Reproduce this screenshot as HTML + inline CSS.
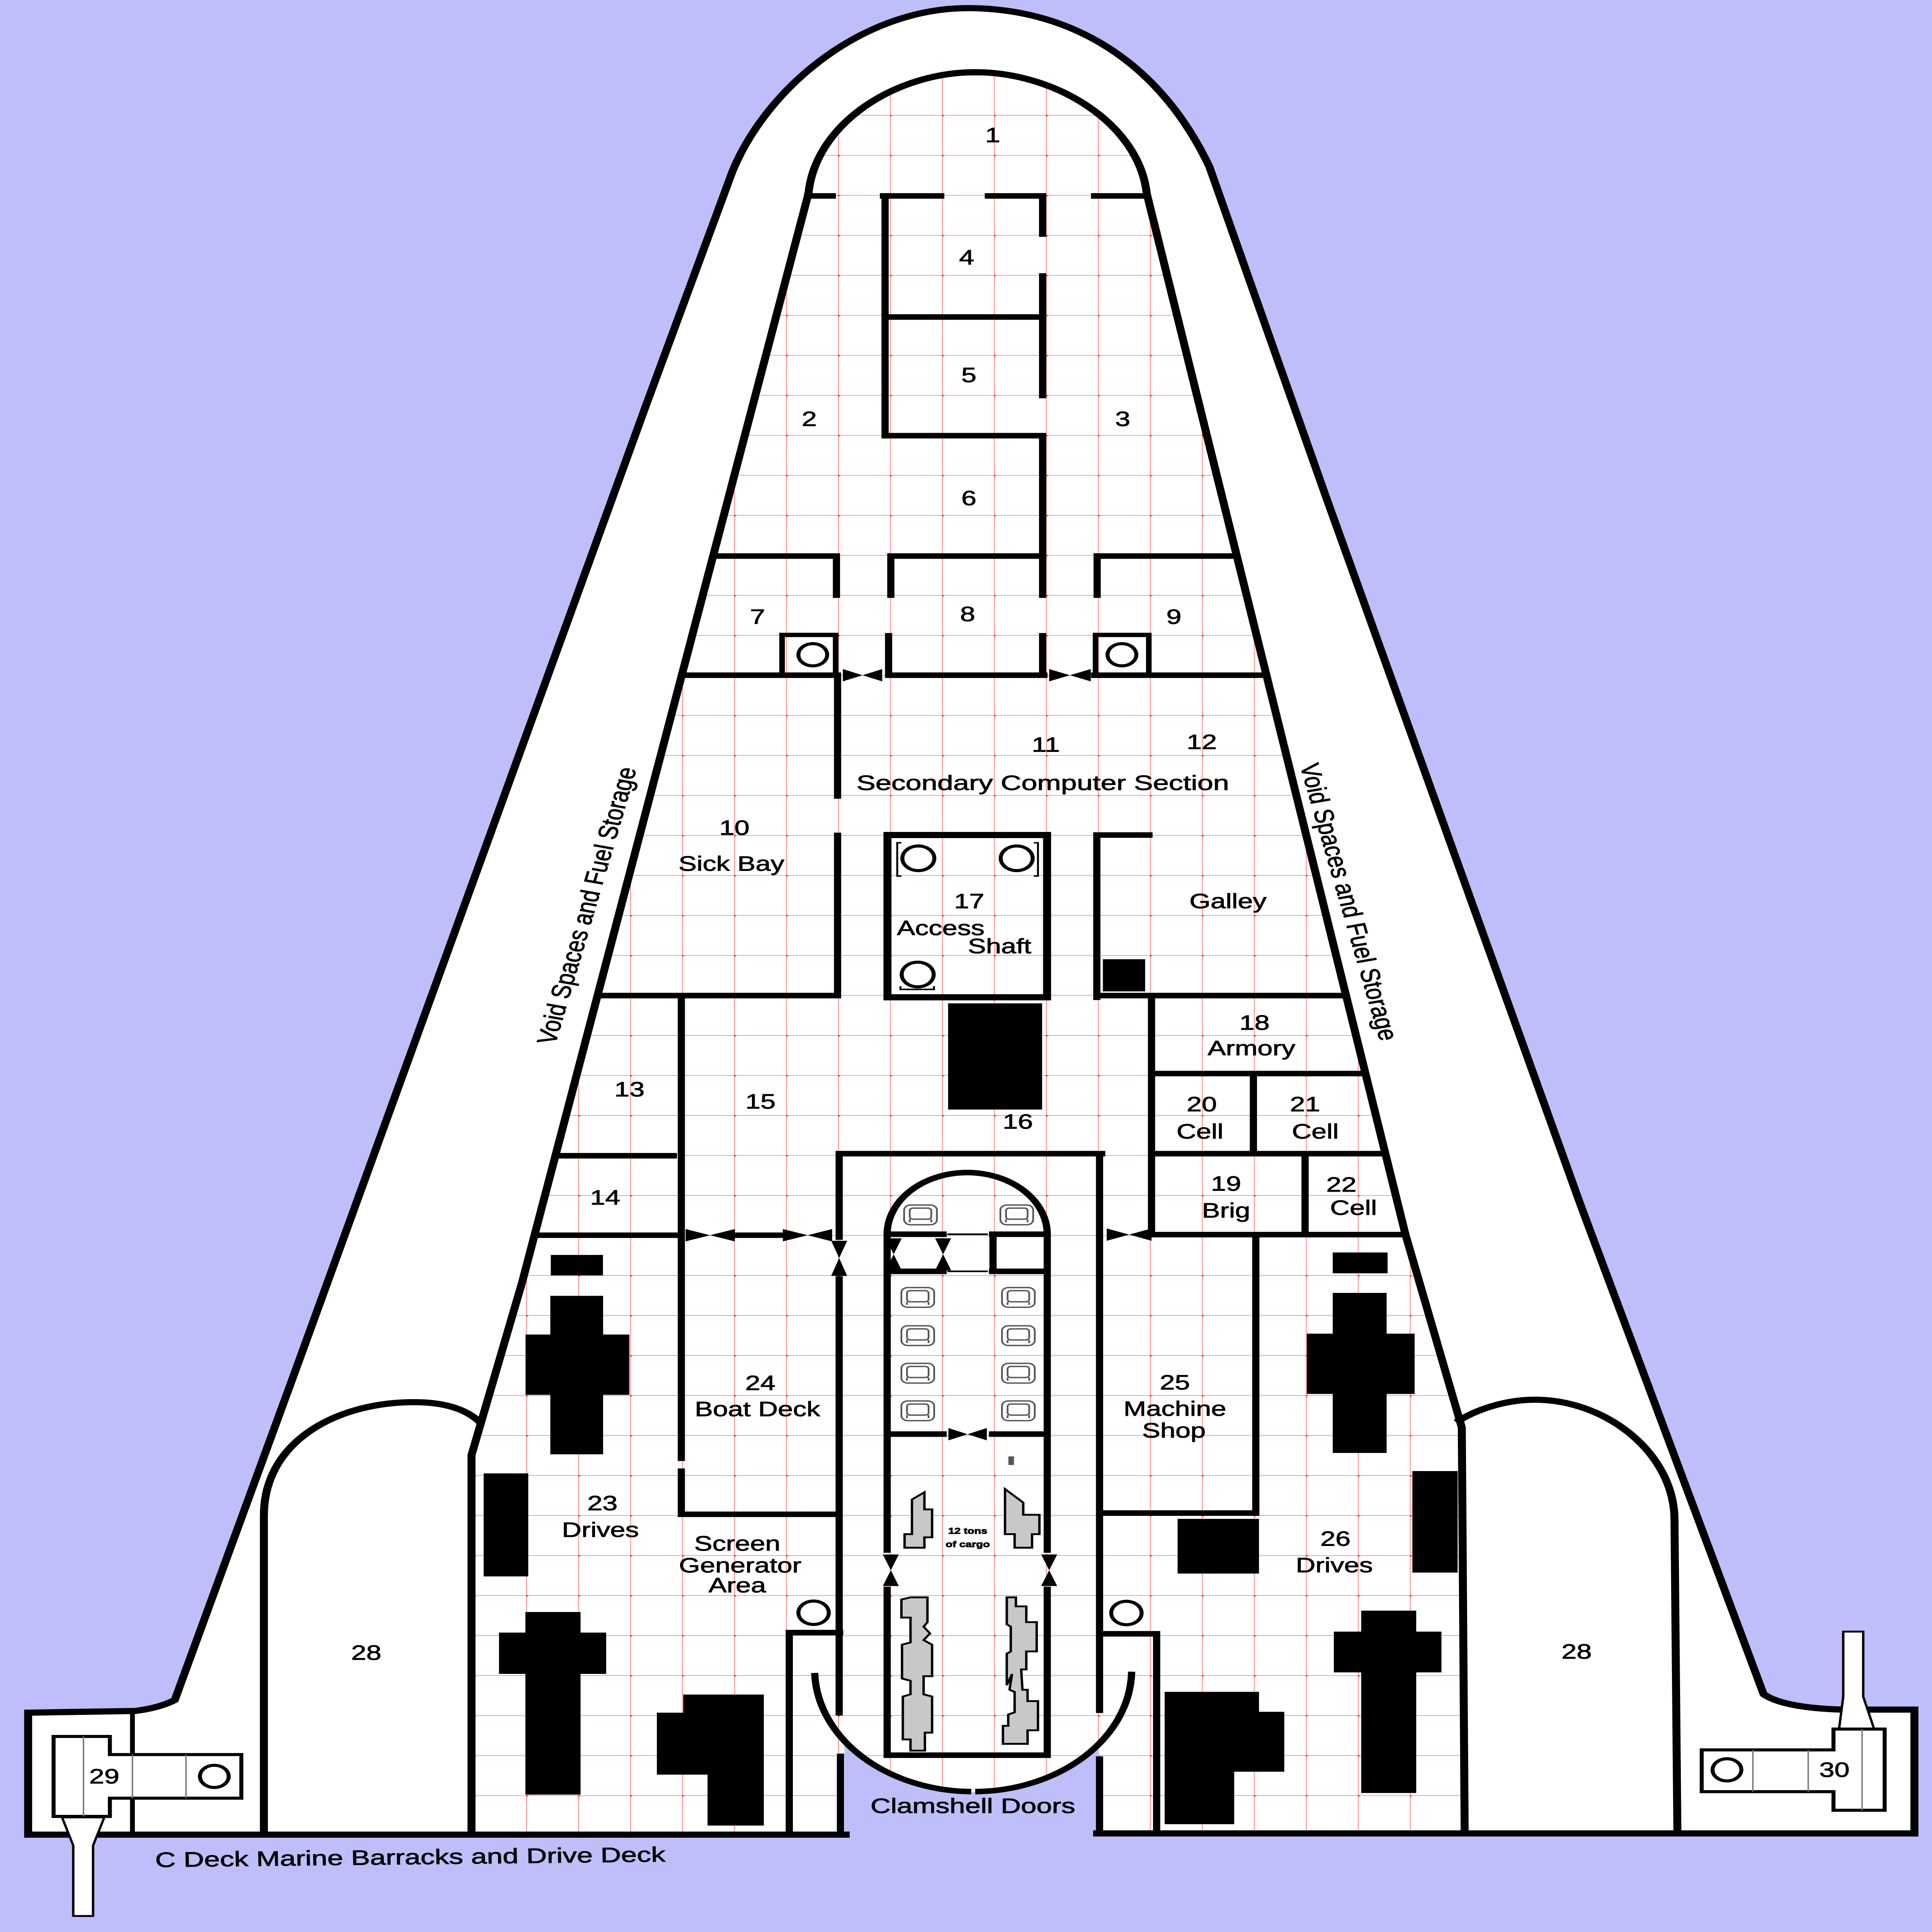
<!DOCTYPE html>
<html><head><meta charset="utf-8"><style>html,body{margin:0;padding:0;background:#bebefa;width:100%;height:100%;overflow:hidden}svg{display:block;position:fixed;left:0;top:0;width:100vw;height:100vh}text{font-family:"Liberation Sans",sans-serif;fill:#000;stroke:#000;stroke-width:0.35}</style></head><body>
<svg xmlns="http://www.w3.org/2000/svg" viewBox="0 0 1208 1568" preserveAspectRatio="none">
<defs>
<pattern id="g" x="491.5" y="93.3" width="32.5" height="32.47" patternUnits="userSpaceOnUse">
<path d="M0,0 L32.5,0 M0,0 L0,32.47" stroke="#ff5a5a" stroke-width="1" opacity="0.75" fill="none"/>
<circle cx="0" cy="0" r="1.3" fill="#ff2020"/>
</pattern>
<clipPath id="deck"><path d="M505.5,157 C510,100 560,58.6 609.8,58.6 C660,58.6 712,100 717,157 L878.8,1002 L914,1158.5 L915.8,1487 L687,1487 L687,1415.8 A99,99 0 0 1 528,1412.6 L528,1487 L294.8,1487 L294.8,1181 L326.4,1041 Z"/></clipPath>
<g id="seat"><rect x="0" y="0" width="20.5" height="16" rx="4"/><rect x="3.5" y="2.5" width="13.5" height="9" rx="2"/><path d="M3.5,11.5 L3.5,14 M17,11.5 L17,14"/></g>
</defs>
<rect width="1208" height="1568" fill="#bebefa"/>
<path d="M17.6,1489 L17.6,1390 L84.6,1388.6 Q100,1386 109.3,1379.7 L186.8,1105 L403.8,329.4 L458,139 C480,70 540,6 606,6.6 C670,7 725,50 756.2,135.4 L828.9,402.6 L988.2,977.7 L1102.7,1375 Q1115,1386 1151.5,1387.5 L1197,1387.5 L1197,1488 L687,1488 L687,1415.8 A99,99 0 0 1 528,1412.6 L528,1489 Z" fill="#fff"/>
<rect x="0" y="0" width="1208" height="1568" fill="url(#g)" clip-path="url(#deck)"/>
<path d="M528,1500 L528,1412.6 A99,99 0 0 0 687,1415.8 L687,1500 Z" fill="#bebefa"/>
<g fill="none" stroke="#000" stroke-linecap="square">
<path stroke-width="5" d="M528.8,1489 L17.6,1489 L17.6,1390 L84.6,1388.6 Q100,1386 109.3,1379.7 L186.8,1105 L403.8,329.4 L458,139 C480,70 540,6 606,6.6 C670,7 725,50 756.2,135.4 L828.9,402.6 L988.2,977.7 L1102.7,1375 Q1115,1386 1151.5,1387.5 L1197,1387.5 L1197,1488 L686,1488"/>
<path stroke-width="5" d="M294.8,1487 L294.8,1181 L326.4,1041 L505.5,157 C510,100 560,58.6 609.8,58.6 C660,58.6 712,100 717,157 L878.8,1002 L914,1158.5 L915.8,1487"/>
<path stroke-width="5" d="M165,1489 L165,1230 C165,1170 210,1138 259,1138 C280,1138 292,1145 299,1153"/>
<path stroke-width="5" d="M1048.8,1487 L1047,1233.8 C1047,1180 1005,1136 959.6,1136 C940,1136 922,1145 912.4,1152.8"/>
<path stroke-width="3" d="M82.8,1392 L82.8,1489"/>
<path stroke-width="4.5" d="
M505,159 L520.4,159 M552.4,159 L588.2,159 M618,159 L651.9,159 M684.4,159 L716,159
M553.4,159 L553.4,353.6 M651.9,159 L651.9,190 M651.9,224 L651.9,321 M651.9,353.6 L651.9,483
M553.4,257.3 L651.9,257.3 M553.4,353.6 L651.9,353.6
M446,451.3 L523,451.3 L523,483 M557,483 L557,451.3 L652,451.3 M686,483 L686,451.3 L773.3,451.3
M426.3,548 L523,548 M555.6,548 L652.7,548 M684.4,548 L791.9,548
M555.6,516 L555.6,548 M651.9,516 L651.9,548
M523.7,548 L523.7,646 M523.7,678 L523.7,808 M374,808 L523.7,808
M685.8,809.4 L685.8,677.7 L718.4,677.7 M685.8,808 L841.7,808
M720,808 L720,1002 M720,871.3 L853.7,871.3 M783.7,871.3 L783.7,936.3 M720,936.3 L866.2,936.3 M816,936.3 L816,1002 M720,1002 L878.8,1002
M426,808 L426,1183.5 M426,1194 L426,1229 L521.7,1229
M347.4,938 L421,938 M334.4,1002.5 L425.5,1002.5 M459.5,1002.5 L489.5,1002.5
M524.7,936.3 L688.8,936.3 M524.7,936.3 L524.7,1004 M524.7,1038 L524.7,1390 M525.5,1425.5 L525.5,1489
M687.5,936.3 L687.5,1388 M687.5,1427.7 L687.5,1488
M785.2,1002 L785.2,1228 L691.9,1228
M525,1325 L493.5,1325 L493.5,1489 M687.5,1326 L723.2,1326 L723.2,1486
"/>
<rect x="489" y="515.3" width="33.5" height="32.7" stroke-width="3.5"/>
<rect x="685" y="515.3" width="33.3" height="32.7" stroke-width="3.5"/>
<circle cx="508.2" cy="531.4" r="9" stroke-width="2.5"/>
<circle cx="701.5" cy="531.4" r="9" stroke-width="2.5"/>
<rect x="554.9" y="677.7" width="99.8" height="131.7" stroke-width="5"/>
<circle cx="574.2" cy="696.6" r="10" stroke-width="2.5"/>
<circle cx="635.7" cy="696.6" r="10" stroke-width="2.5"/>
<circle cx="573.8" cy="790.9" r="10" stroke-width="2.5"/>
<path stroke-width="1.2" d="M563,684 L561,684 L561,711 L563,711 M647,684 L649,684 L649,711 L647,711 M563,801 L563,803 L584,803 L584,801"/>
<circle cx="508.7" cy="1308.9" r="9.5" stroke-width="2.5"/>
<circle cx="704.3" cy="1309.1" r="9.5" stroke-width="2.5"/>
<path stroke-width="4.5" d="M509.5,1360 A99,99 0 0 0 605,1454 M612,1454 A99,99 0 0 0 707.5,1359"/>
<path stroke-width="4.5" d="M554.7,1258 L554.7,1001.7 A50,50 0 0 1 654.8,1001.7 L654.8,1258 M554.7,1290 L554.7,1424.5 L654.8,1424.5 L654.8,1290
M554.7,1001.7 L589.7,1001.7 M620.6,1001.7 L654.8,1001.7 M554.7,1031.8 L589.7,1031.8 M620.6,1031.8 L654.8,1031.8 M620.9,1001.7 L620.9,1031.8
M554.7,1163.9 L589.7,1163.9 M620.6,1163.9 L654.8,1163.9"/>
<path stroke-width="1.3" d="M593,1001.7 L617,1001.7 M593,1031.8 L617,1031.8"/>
</g>
<g fill="#000">
<path d="M527,543 L539.3,548 L527,553 Z M551.6,543 L539.3,548 L551.6,553 Z"/>
<path d="M656,543 L669,548 L656,553 Z M682,543 L669,548 L682,553 Z"/>
<path d="M428.7,997.5 L444,1002.5 L428.7,1007.5 Z M459.5,997.5 L444,1002.5 L459.5,1007.5 Z"/>
<path d="M489.5,997.5 L505,1002.5 L489.5,1007.5 Z M520.3,997.5 L505,1002.5 L520.3,1007.5 Z"/>
<path d="M692,997 L706,1002 L692,1007 Z M720,997 L706,1002 L720,1007 Z"/>
<path d="M593,1159 L605,1164 L593,1169 Z M617,1159 L605,1164 L617,1169 Z"/>
<path d="M519.7,1007 L524.7,1021 L529.7,1007 Z M519.7,1035.5 L524.7,1021 L529.7,1035.5 Z"/>
<path d="M553.8,1005 L558.8,1018 L563.8,1005 Z M553.8,1031 L558.8,1018 L563.8,1031 Z"/>
<path d="M584.7,1005 L589.7,1018 L594.7,1005 Z M584.7,1031 L589.7,1018 L594.7,1031 Z"/>
<path d="M552,1261.6 L557,1274.4 L562,1261.6 Z M552,1287.2 L557,1274.4 L562,1287.2 Z"/>
<path d="M651,1261.6 L656,1274.4 L661,1261.6 Z M651,1287.2 L656,1274.4 L661,1287.2 Z"/>
</g>
<g fill="#000">
<rect x="592.8" y="814.3" width="58.8" height="86.2"/>
<rect x="689.6" y="778.5" width="26.4" height="26.1"/>
<rect x="344.4" y="1018.5" width="32.6" height="16.6"/>
<path d="M344.1,1051.7 L377.1,1051.7 L377.1,1083.1 L393.5,1083.1 L393.5,1132 L377.1,1132 L377.1,1180.3 L344.1,1180.3 L344.1,1132 L328.6,1132 L328.6,1083.1 L344.1,1083.1 Z"/>
<rect x="302.4" y="1195.8" width="27.9" height="83.6"/>
<path d="M328.5,1308.3 L363,1308.3 L363,1325 L379,1325 L379,1358.5 L363,1358.5 L363,1456.5 L328.5,1456.5 L328.5,1358.5 L312,1358.5 L312,1325 L328.5,1325 Z"/>
<path d="M427.2,1375.3 L477.6,1375.3 L477.6,1481.6 L442.4,1481.6 L442.4,1440.3 L410.7,1440.3 L410.7,1390 L427.2,1390 Z"/>
<rect x="833.3" y="1016.5" width="34.3" height="16.9"/>
<path d="M833.3,1049.3 L867,1049.3 L867,1082.4 L884.5,1082.4 L884.5,1131.3 L867,1131.3 L867,1179.2 L833.3,1179.2 L833.3,1131.3 L817.1,1131.3 L817.1,1082.4 L833.3,1082.4 Z"/>
<rect x="883.1" y="1193.9" width="28.3" height="82.4"/>
<rect x="736.3" y="1232.7" width="50.9" height="44.4"/>
<path d="M851.1,1307.2 L885.5,1307.2 L885.5,1324.2 L901.3,1324.2 L901.3,1357.3 L885.5,1357.3 L885.5,1455.2 L851.1,1455.2 L851.1,1357.3 L834,1357.3 L834,1324.2 L851.1,1324.2 Z"/>
<path d="M728.2,1373.1 L787.2,1373.1 L787.2,1389.3 L803,1389.3 L803,1437.9 L771.7,1437.9 L771.7,1480.5 L728.2,1480.5 Z"/>
<rect x="630.5" y="1182" width="3.5" height="7" fill="#555"/>
</g>
<g fill="#c8c8c8" stroke="#000" stroke-width="1.5">
<path d="M570.2,1217 L578,1211.1 L578,1225 L582.8,1225 L582.8,1247.7 L578,1247.7 L578,1256.1 L565.6,1256.1 L565.6,1245.1 L570.2,1245.1 Z"/>
<path d="M628.4,1208.5 L639.8,1219.5 L639.8,1229.4 L649.9,1229.4 L649.9,1245.1 L645.3,1245.1 L645.3,1256.1 L634.4,1256.1 L634.4,1245.1 L628.4,1245.1 Z"/>
<path d="M569.3,1296.4 L579.9,1296.4 L579.9,1316.5 L577.5,1320.2 L581.5,1325.7 L577.5,1331.1 L582.8,1334.8 L582.8,1360.4 L577.5,1360.4 L577.5,1375.1 L582.8,1376.9 L582.8,1406.2 L578.3,1406.2 L578.3,1420.8 L569.3,1420.8 L569.3,1411.7 L564.5,1411.7 L564.5,1376.9 L569.3,1375.1 L569.3,1364.1 L564,1362.3 L564,1334.8 L569.3,1333 L569.3,1312.8 L563.6,1312.8 L563.6,1298.2 Z"/>
<path d="M629.5,1296.4 L635.2,1296.4 L635.2,1303.7 L641.7,1303.7 L641.7,1316.5 L648.2,1316.5 L648.2,1340.3 L641.7,1340.3 L641.7,1354.9 L638.5,1354.9 L639.3,1371.4 L642.5,1371.4 L642.5,1380.6 L649,1380.6 L649,1404.3 L642.5,1404.3 L642.5,1415.3 L627.1,1415.3 L627.1,1400.7 L630.4,1400.7 L630.4,1391.5 L634.4,1389.7 L634.4,1373.2 L631.2,1371.4 L632.8,1358.6 L629.5,1367.7 L629.5,1342.1 L632,1340.3 L632,1320.2 L629.5,1318.3 Z"/>
</g>
<g fill="#fff" stroke="#555" stroke-width="1.1">
<use href="#seat" x="565.3" y="978"/><use href="#seat" x="625.5" y="978"/>
<use href="#seat" x="563.6" y="1045"/><use href="#seat" x="626.5" y="1045"/>
<use href="#seat" x="563.6" y="1076"/><use href="#seat" x="626.5" y="1076"/>
<use href="#seat" x="563.6" y="1106.5"/><use href="#seat" x="626.5" y="1106.5"/>
<use href="#seat" x="563.6" y="1137"/><use href="#seat" x="626.5" y="1137"/>
</g>
<g fill="#fff" stroke="#000" stroke-width="2.5">
<path d="M38.8,1475 L65.2,1475 L58.2,1497.8 L58.2,1555 L45.8,1555 L45.8,1497.8 Z" stroke-width="1.5"/>
<path d="M33.5,1409.3 L68.7,1409.3 L68.7,1424 L150.9,1424 L150.9,1459.4 L68.7,1459.4 L68.7,1474.2 L33.5,1474.2 Z"/>
<path d="M1149.8,1404 L1152.5,1377 L1152.5,1324.2 L1165,1324.2 L1165,1377 L1172,1404 Z" stroke-width="1.5"/>
<path d="M1146.4,1403.3 L1178.4,1403.3 L1178.4,1469.2 L1146.4,1469.2 L1146.4,1454.1 L1064,1454.1 L1064,1420.2 L1146.4,1420.2 Z"/>
<circle cx="134" cy="1441.7" r="9"/>
<circle cx="1079.8" cy="1436.4" r="9"/>
</g>
<path d="M52.2,1409.3 L52.2,1474.2 M82.8,1424 L82.8,1459.4 M116.3,1424 L116.3,1459.4 M1096,1420.2 L1096,1454.1 M1130.6,1420.2 L1130.6,1454.1 M1164.3,1403.3 L1164.3,1469.2" stroke="#777" stroke-width="0.9" fill="none"/>
<g font-size="17" text-anchor="middle" dominant-baseline="central">
<text x="620.7" y="109.8">1</text>
<text x="506" y="340">2</text><text x="702" y="340">3</text>
<text x="604.4" y="209">4</text><text x="605.8" y="304.5">5</text><text x="605.8" y="404.4">6</text>
<text x="473.7" y="500.7">7</text><text x="605" y="498.5">8</text><text x="734" y="500.7">9</text>
<text x="459.2" y="671.8">10</text><text x="457.3" y="701">Sick Bay</text>
<text x="653.9" y="604.5">11</text><text x="751.4" y="602.2">12</text>
<text x="652" y="635.4" textLength="233" lengthAdjust="spacingAndGlyphs">Secondary Computer Section</text>
<text x="606" y="731.4">17</text><text x="588.2" y="753.2">Access</text><text x="625" y="768">Shaft</text>
<text x="767.8" y="731.4">Galley</text>
<text x="784.4" y="830">18</text><text x="782.5" y="850.7">Armory</text>
<text x="751.4" y="896.3">20</text><text x="750.3" y="918.4">Cell</text>
<text x="816" y="896.3">21</text><text x="822.4" y="918.4">Cell</text>
<text x="766.6" y="960.7">19</text><text x="766.6" y="982.5">Brig</text>
<text x="838.7" y="961.4">22</text><text x="846.3" y="980.2">Cell</text>
<text x="393.6" y="884.2">13</text><text x="475.5" y="894">15</text><text x="636.4" y="910.3">16</text><text x="378.4" y="972">14</text>
<text x="475.4" y="1122.5">24</text><text x="473.6" y="1143.7">Boat Deck</text>
<text x="376.7" y="1220">23</text><text x="375.4" y="1241.6">Drives</text>
<text x="461" y="1252.8">Screen</text><text x="462.8" y="1270.5">Generator</text><text x="461" y="1286.7">Area</text>
<text x="734.6" y="1122">25</text><text x="734.6" y="1143.4">Machine</text><text x="734" y="1161">Shop</text>
<text x="835" y="1248.8">26</text><text x="834.3" y="1270.3">Drives</text>
<text x="229" y="1341.4">28</text><text x="985.8" y="1340.4">28</text>
<text x="65.2" y="1441.7">29</text><text x="1147" y="1436.4">30</text>
<text x="608.3" y="1465.8" textLength="128" lengthAdjust="spacingAndGlyphs">Clamshell Doors</text>
<text x="256.5" y="1507.4" textLength="319" lengthAdjust="spacingAndGlyphs" transform="rotate(-0.8 256.5 1507.4)">C Deck Marine Barracks and Drive Deck</text>
<text x="367" y="735" textLength="230" lengthAdjust="spacingAndGlyphs" transform="rotate(-77.2 367 735)">Void Spaces and Fuel Storage</text>
<text x="843.4" y="732" textLength="230" lengthAdjust="spacingAndGlyphs" transform="rotate(77.4 843.4 732)">Void Spaces and Fuel Storage</text>
<text x="605.1" y="1242.6" font-size="7" font-weight="bold">12 tons</text>
<text x="605.1" y="1253.5" font-size="7" font-weight="bold">of cargo</text>
</g>
</svg>
</body></html>
